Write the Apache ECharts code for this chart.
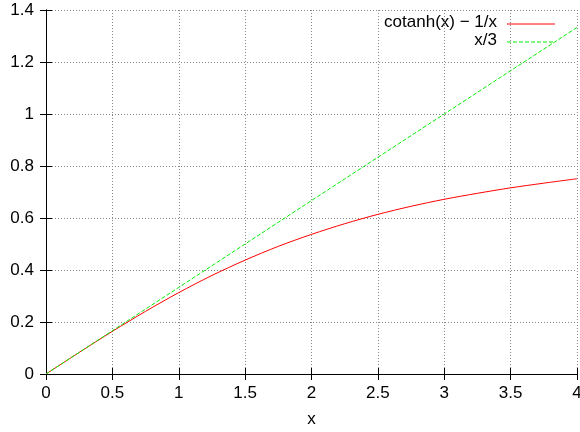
<!DOCTYPE html>
<html><head><meta charset="utf-8">
<script src="https://cdn.jsdelivr.net/npm/echarts@6/dist/echarts.min.js"></script>
<style>html,body{margin:0;padding:0;background:#fff}#c{width:580px;height:432px}</style>
</head><body><div id="c"></div>
<script>
const xValues = [0, 0.25, 0.5, 0.75, 1.0, 1.25, 1.5, 1.75, 2.0, 2.25, 2.5, 2.75, 3.0, 3.25, 3.5, 3.75, 4.0];
const langevinValues = [0, 0.083, 0.164, 0.241, 0.313, 0.379, 0.438, 0.491, 0.537, 0.578, 0.614, 0.645, 0.672, 0.695, 0.716, 0.734, 0.751];
const lineX = [0, 1, 2, 3, 4];
const lineValues = [0, 0.333, 0.667, 1.0, 1.333];
const seriesNames = ['cotanh(x) \u2212 1/x', 'x/3'];
const seriesColors = ['#ff0000', '#00ee00'];
const xTicks = {min: 0, max: 4, interval: 0.5};
const yTicks = {min: 0, max: 1.4, interval: 0.2};

const FONT = 'Liberation Sans, Arial, sans-serif';
const FS = 17;
const chart = echarts.init(document.getElementById('c'), null, {renderer: 'canvas'});
const axisLine = {show: true, lineStyle: {color: '#000', width: 1}};
const axisTick = {show: true, inside: true, length: 6, lineStyle: {color: '#000'}};
const splitLine = {show: true, lineStyle: {color: '#888888', width: 1, type: [1, 2]}};
const lbl = {color: '#000', fontFamily: FONT, fontSize: FS};

const legendGraphics = [];
seriesNames.forEach((n, i) => {
  const y = 24 + i * 18;
  legendGraphics.push({type: 'text', right: 83, top: y - 10,
    style: {text: n, fill: '#000', font: FS + 'px ' + FONT, textAlign: 'right'}});
  legendGraphics.push({type: 'line', shape: {x1: 507, y1: y, x2: 555, y2: y},
    style: {stroke: seriesColors[i], lineWidth: 1, lineDash: i === 1 ? [4, 2] : null}});
});

chart.setOption({
  animation: false,
  backgroundColor: '#fff',
  grid: {left: 46, right: 3, top: 10, bottom: 58, containLabel: false, outerBoundsMode: 'none'},
  graphic: legendGraphics,
  xAxis: [
    {type: 'value', min: xTicks.min, max: xTicks.max, interval: xTicks.interval, position: 'bottom',
     name: 'x', nameLocation: 'middle', nameGap: 37, nameTextStyle: lbl,
     axisLine, axisTick, splitLine, axisLabel: Object.assign({margin: 11}, lbl)},
    {type: 'value', min: xTicks.min, max: xTicks.max, interval: xTicks.interval, position: 'top',
     axisLine, axisTick, splitLine: {show: false}, axisLabel: {show: false}}
  ],
  yAxis: [
    {type: 'value', min: yTicks.min, max: yTicks.max, interval: yTicks.interval, position: 'left',
     axisLine, axisTick, splitLine, axisLabel: Object.assign({margin: 12}, lbl)},
    {type: 'value', min: yTicks.min, max: yTicks.max, interval: yTicks.interval, position: 'right',
     axisLine, axisTick, splitLine: {show: false}, axisLabel: {show: false}}
  ],
  series: [
    {name: seriesNames[0], type: 'line', smooth: 0.3, showSymbol: false, symbol: 'none',
     data: xValues.map((x, i) => [x, langevinValues[i]]),
     lineStyle: {color: seriesColors[0], width: 1}},
    {name: seriesNames[1], type: 'line', showSymbol: false, symbol: 'none',
     data: lineX.map((x, i) => [x, lineValues[i]]),
     lineStyle: {color: seriesColors[1], width: 1, type: [4, 2]}}
  ]
});
</script></body></html>
